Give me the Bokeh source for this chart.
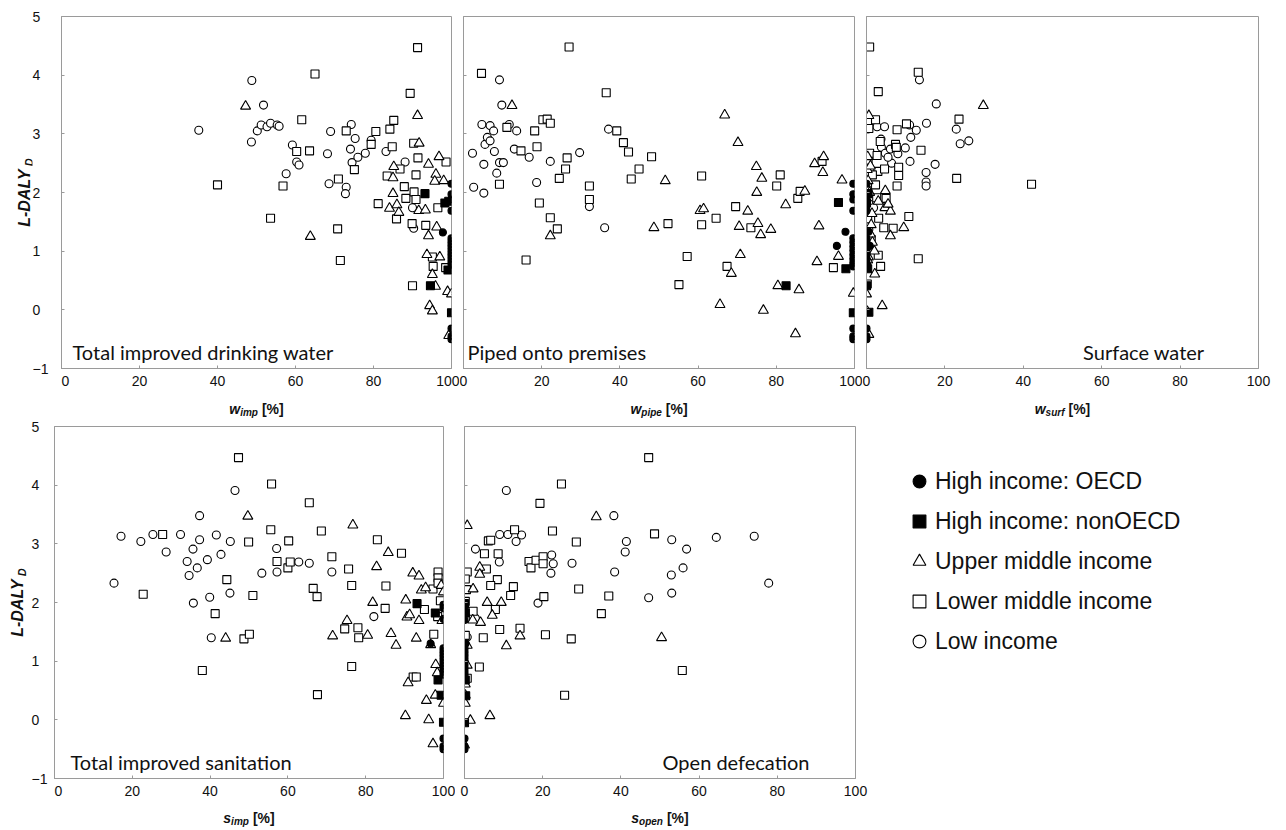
import math
from bokeh.plotting import figure
from bokeh.models import Range1d, Label, FixedTicker, Legend, LegendItem
from bokeh.core.properties import value
from bokeh.layouts import column, row
from bokeh.embed import file_html
from bokeh.resources import INLINE

# ---------------- data ----------------
# Panel 1: total improved drinking water (w_imp)
wimp_low_x = [35.2, 48.7, 50.2, 51.2, 48.8, 51.8, 52.7, 53.6, 55.3, 55.8, 59.2, 60.3, 60.9, 57.6, 68.2,
              69.0, 68.6, 73.0, 72.8, 74.3, 75.3, 74.1, 74.5, 76.0, 77.9, 79.4, 83.2, 88.1, 90.0, 90.3]
wimp_low_y = [3.06, 2.86, 3.05, 3.15, 3.91, 3.49, 3.12, 3.18, 3.15, 3.13, 2.81, 2.52, 2.47, 2.32, 2.66,
              3.04, 2.15, 2.09, 1.98, 3.16, 2.92, 2.74, 2.51, 2.60, 2.67, 2.89, 2.70, 2.52, 1.74, 1.39]
wimp_lmid_x = [40.0, 53.6, 56.8, 65.0, 61.6, 60.3, 63.6, 71.0, 70.8, 71.5, 73.0, 75.1, 79.4, 80.6, 81.2,
               84.2, 85.2, 84.8, 83.5, 86.8, 87.9, 88.3, 85.9, 89.4, 91.3, 90.3, 91.4, 90.9, 90.4, 90.9,
               89.9, 93.4, 90.0, 95.1, 95.3, 96.5, 98.6, 98.5]
wimp_lmid_y = [2.13, 1.56, 2.11, 4.02, 3.24, 2.70, 2.71, 2.23, 1.38, 0.84, 3.05, 2.39, 2.82, 3.04, 1.81,
               3.08, 3.23, 2.78, 2.28, 2.40, 2.10, 1.90, 1.55, 3.69, 4.47, 2.84, 2.59, 2.30, 2.01, 1.88,
               1.47, 1.44, 0.41, 0.90, 0.74, 1.74, 2.52, 0.72]
wimp_umid_x = [47.2, 63.8, 91.3, 91.7, 96.8, 94.1, 96.0, 95.7, 98.0, 85.2, 85.0, 85.0, 84.1, 86.0, 86.5,
               91.6, 93.3, 96.2, 94.1, 93.7, 97.0, 95.1, 95.9, 94.4, 95.1, 99.0, 100.0, 99.3]
wimp_umid_y = [3.47, 1.25, 3.31, 2.84, 2.61, 2.48, 2.31, 2.19, 2.20, 2.44, 2.25, 1.98, 1.73, 1.79, 1.66,
               1.69, 1.70, 1.41, 1.26, 0.94, 0.90, 0.60, 0.40, 0.07, -0.02, 0.31, 0.27, -0.44]
wimp_hnon_x = [93.2, 98.3, 99.3, 94.6, 100.0, 99.1]
wimp_hnon_y = [1.98, 1.82, 1.85, 0.41, -0.05, 0.68]
wimp_hoecd_x = [100, 100, 100, 100, 97.8, 100, 100, 100, 100, 100, 100, 100, 100, 100, 100, 100, 100, 100]
wimp_hoecd_y = [2.15, 1.97, 1.88, 1.69, 1.32, 1.22, 1.17, 1.12, 1.07, 1.02, 0.97, 0.92, 0.87, 0.82, 0.77,
                -0.32, -0.45, -0.50]

# Panel 2: piped onto premises (w_pipe)
wpipe_low_x = [2.3, 2.6, 4.7, 5.2, 5.2, 5.5, 6.1, 6.8, 6.8, 7.7, 7.9, 8.5, 9.2, 10.2, 9.2, 9.8, 11.7, 13.6,
               13.0, 16.8, 18.7, 22.2, 29.7, 32.2, 36.1, 37.1]
wpipe_low_y = [2.67, 2.09, 3.16, 2.48, 1.99, 2.82, 2.94, 3.14, 2.88, 3.05, 2.70, 2.33, 2.51, 2.51, 3.92,
               3.49, 3.16, 3.05, 2.74, 2.60, 2.17, 2.53, 2.68, 1.76, 1.40, 3.08]
wpipe_lmid_x = [4.6, 9.2, 11.1, 14.7, 16.0, 18.2, 18.8, 19.4, 20.3, 21.4, 22.2, 22.2, 24.0, 24.5, 26.1,
                26.5, 27.0, 32.2, 32.2, 36.5, 39.2, 40.9, 42.2, 42.9, 44.9, 48.1, 52.3, 55.1, 57.2, 60.9,
                60.9, 64.6, 67.4, 69.6, 73.5, 80.1, 81.0, 85.5, 86.1, 91.7, 94.6]
wpipe_lmid_y = [4.03, 2.14, 3.11, 2.71, 0.85, 3.05, 2.78, 1.82, 3.24, 3.25, 3.18, 1.57, 1.38, 2.24, 2.40,
                2.59, 4.48, 2.11, 1.88, 3.70, 3.05, 2.85, 2.69, 2.23, 2.40, 2.61, 1.47, 0.43, 0.91, 2.28,
                1.45, 1.56, 0.74, 1.76, 1.40, 2.11, 2.30, 1.90, 2.02, 2.53, 0.72]
wpipe_umid_x = [12.4, 22.2, 48.7, 51.6, 60.5, 61.4, 65.6, 66.8, 68.5, 70.2, 70.5, 70.8, 72.7, 74.9, 75.0,
                75.3, 76.3, 76.0, 76.7, 78.6, 80.4, 82.4, 84.9, 85.8, 87.3, 89.8, 90.4, 90.9, 91.9, 92.1,
                95.9, 96.8, 99.7]
wpipe_umid_y = [3.48, 1.26, 1.40, 2.20, 1.69, 1.72, 0.09, 3.32, 0.62, 2.85, 1.42, 0.94, 1.68, 2.44, 2.00,
                1.47, 2.24, 1.28, -0.01, 1.37, 0.41, 1.79, -0.41, 0.34, 2.02, 2.49, 0.82, 1.43, 2.34, 2.61,
                0.91, 2.21, 0.28]
wpipe_hnon_x = [95.9, 82.5, 99.7, 97.8]
wpipe_hnon_y = [1.83, 0.41, -0.05, 0.70]
wpipe_hoecd_x = [99.7, 99.7, 99.7, 99.7, 97.7, 95.5, 99.7, 99.7, 99.7, 99.7, 99.7, 99.7, 99.7, 99.7,
                 99.7, 99.7, 99.7]
wpipe_hoecd_y = [2.15, 1.97, 1.88, 1.69, 1.33, 1.09, 1.22, 1.15, 1.08, 1.01, 0.94, 0.87, 0.80, 0.74,
                 -0.32, -0.45, -0.50]

# Panel 3: surface water (w_surf)
wsurf_low_x = [13.5, 17.8, 2.7, 4.6, 11.0, 12.7, 15.3, 22.9, 23.9, 26.1, 3.7, 11.3, 9.9, 3.8, 4.8, 6.1,
               6.4, 11.1, 17.5, 15.2, 15.2, 15.2, 0.6, 0.6, 1.8, 5.5, 8.0]
wsurf_low_y = [3.92, 3.51, 3.12, 3.12, 3.15, 3.06, 3.18, 3.08, 2.83, 2.88, 2.91, 2.94, 2.76, 2.77, 2.67,
               2.74, 2.50, 2.53, 2.48, 2.34, 2.18, 2.11, 1.81, 1.37, 1.74, 2.60, 2.66]
wsurf_lmid_x = [0.8, 13.2, 3.0, 2.3, 0.6, 7.8, 10.2, 23.6, 3.5, 7.4, 7.6, 13.9, 0.8, 2.7, 23.0, 8.2, 8.2,
                7.8, 2.9, 4.6, 2.3, 0.2, 2.6, 5.0, 3.1, 10.8, 6.8, 4.4, 3.0, 3.6, 0.0, 0.2, 13.2, 42.1,
                0.4, 1.5, 0.3, 1.2]
wsurf_lmid_y = [4.48, 4.05, 3.72, 3.24, 3.09, 3.07, 3.17, 3.25, 2.87, 2.82, 2.77, 2.72, 2.67, 2.63, 2.24,
                2.43, 2.29, 2.11, 2.36, 2.40, 2.13, 2.03, 1.91, 1.90, 1.56, 1.59, 1.39, 1.40, 0.93, 0.74,
                0.74, 0.44, 0.87, 2.14, 2.52, 2.30, 1.55, 1.20]
wsurf_umid_x = [29.8, 0.6, 0.2, 4.8, 4.7, 6.1, 1.4, 9.5, 1.0, 6.1, 2.1, 0.0, 4.0, 0.2, 0.6, 5.5, 0.4, 1.0,
                0.3, 2.0, 0.5, 1.2, 0.8, 3.0, 0.3, 1.5]
wsurf_umid_y = [3.48, 3.31, 2.39, 2.03, 1.74, 1.68, 1.64, 1.40, 1.29, 1.26, 0.61, 0.27, 0.07, -0.03,
                -0.42, 1.80, 2.20, 2.45, 2.61, 1.00, 0.90, 1.45, 2.00, 1.85, 0.85, 1.15]
wsurf_hnon_x = [0.4, 0.0, 0.3, 0.0, 0.6]
wsurf_hnon_y = [1.98, 1.82, 0.70, 0.41, -0.04]
wsurf_hoecd_x = [0.0, 0.0, 0.0, 0.0, 0.5, 0.8, 0.0, 0.0, 0.0, 0.0, 0.0, 0.0, 0.0, 0.0, 0.0, 0.0, 0.0]
wsurf_hoecd_y = [2.15, 1.97, 1.88, 1.69, 1.33, 1.09, 1.22, 1.15, 1.08, 1.01, 0.94, 0.87, 0.80, 0.74,
                 -0.32, -0.45, -0.50]

# Panel 4: total improved sanitation (s_imp)
simp_low_x = [15.3, 17.1, 22.2, 25.3, 28.7, 32.4, 34.1, 35.6, 34.6, 36.7, 37.3, 37.3, 35.7, 39.3, 39.9,
              40.3, 41.6, 42.8, 45.1, 45.2, 46.4, 53.3, 57.1, 57.2, 62.8, 65.5, 71.3, 82.1]
simp_low_y = [2.33, 3.13, 3.04, 3.16, 2.86, 3.16, 2.70, 2.91, 2.46, 2.59, 3.07, 3.48, 1.99, 2.73, 2.09,
              1.40, 3.15, 2.82, 2.16, 3.04, 3.91, 2.50, 2.92, 2.52, 2.69, 2.67, 2.52, 1.76]
simp_lmid_x = [22.8, 27.8, 38.0, 41.3, 44.3, 47.3, 48.7, 49.9, 50.1, 51.0, 55.6, 55.8, 57.2, 60.0, 60.2,
               60.6, 65.5, 66.5, 67.5, 67.6, 68.6, 71.3, 74.6, 75.6, 76.4, 76.4, 78.0, 78.2, 83.0, 85.0,
               85.2, 89.2, 92.2, 93.0, 95.1, 97.3, 97.5, 98.6, 98.6, 98.6, 99.2, 98.5]
simp_lmid_y = [2.14, 3.16, 0.84, 1.81, 2.39, 4.47, 1.38, 3.03, 1.46, 2.12, 3.24, 4.02, 2.70, 2.59, 3.05,
               2.69, 3.70, 2.24, 2.10, 0.43, 3.22, 2.78, 1.55, 2.57, 2.29, 0.91, 1.57, 1.40, 3.07, 1.90,
               2.28, 2.84, 0.73, 0.73, 1.88, 2.23, 1.46, 2.52, 2.42, 2.33, 2.03, 1.76]
simp_umid_x = [49.7, 44.0, 71.5, 75.2, 76.7, 80.5, 81.8, 82.8, 85.8, 86.5, 87.8, 90.2, 90.3, 90.6, 90.9,
               91.3, 92.1, 93.0, 93.7, 93.7, 94.3, 95.4, 95.6, 96.2, 96.7, 97.3, 97.9, 98.0, 98.4, 99.4,
               100.0, 100.0, 99.6]
simp_umid_y = [3.47, 1.39, 1.43, 1.69, 3.32, 1.44, 2.00, 2.61, 2.85, 1.47, 1.27, 0.07, 2.04, 1.75, 0.63,
               1.79, 2.50, 1.39, 2.45, 1.69, 2.21, 2.25, 0.33, 0.00, 1.28, -0.41, 0.42, 0.94, 0.80, 2.29,
               2.18, 0.28, 1.69]
simp_hnon_x = [93.2, 97.9, 98.6, 99.4, 100.0]
simp_hnon_y = [1.98, 1.82, 0.68, 0.42, -0.04]
simp_hoecd_x = [100, 100, 100, 96.7, 100, 100, 100, 100, 100, 100, 100, 100, 100, 100, 100, 100, 100]
simp_hoecd_y = [1.96, 1.90, 1.72, 1.30, 1.22, 1.17, 1.12, 1.07, 1.02, 0.97, 0.92, 0.87, 0.82, 0.77,
                -0.32, -0.45, -0.50]

# Panel 5: open defecation (s_open)
sopen_low_x = [10.7, 2.8, 9.0, 11.1, 13.2, 14.6, 8.9, 18.8, 22.3, 22.7, 22.1, 27.5, 38.2, 38.4, 41.4,
               41.1, 47.1, 53.0, 52.9, 53.0, 55.9, 56.8, 64.4, 74.1, 77.8, 2.8, 0.7]
sopen_low_y = [3.91, 2.91, 3.16, 3.16, 3.04, 3.15, 2.69, 1.99, 2.81, 2.66, 2.50, 2.67, 3.48, 2.52, 3.04,
               2.86, 2.08, 3.07, 2.47, 2.16, 2.59, 2.91, 3.11, 3.13, 2.33, 1.73, 1.41]
sopen_lmid_x = [47.1, 24.8, 19.3, 12.8, 22.5, 28.6, 48.6, 6.1, 6.7, 5.1, 8.6, 5.6, 16.5, 17.0, 18.3, 20.1,
                20.1, 8.4, 6.7, 12.5, 11.8, 20.3, 29.2, 36.9, 35.0, 7.9, 2.2, 9.0, 14.2, 20.7, 27.3, 4.8,
                3.8, 55.7, 25.6, 0.7, 0.2, 0.5, 0.2, 0.2, 0.2, 0.7]
sopen_lmid_y = [4.47, 4.02, 3.69, 3.24, 3.22, 3.03, 3.17, 3.05, 3.06, 2.83, 2.83, 2.57, 2.70, 2.59, 2.72,
                2.78, 2.66, 2.39, 2.29, 2.27, 2.12, 2.10, 2.23, 2.11, 1.81, 1.88, 1.85, 1.54, 1.56, 1.45,
                1.38, 1.40, 0.90, 0.84, 0.42, 2.52, 2.40, 2.22, 2.02, 1.73, 1.44, 0.71]
sopen_umid_x = [0.7, 33.7, 3.9, 3.9, 2.2, 5.8, 9.4, 7.1, 4.1, 14.2, 10.7, 50.4, 0.7, 0.7, 0.2, 0.2, 0.2,
                6.5, 1.5, 0.0, 2.1]
sopen_umid_y = [3.31, 3.46, 2.60, 2.48, 2.23, 2.00, 2.00, 1.78, 1.66, 1.43, 1.26, 1.40, 1.27, 0.93, 0.61,
                0.42, 0.28, 0.07, -0.01, -0.43, 1.70]
sopen_hnon_x = [0.0, 0.2, 0.2, 0.3, 0.0]
sopen_hnon_y = [1.98, 1.82, 0.68, 0.41, -0.05]
sopen_hoecd_x = [0.0, 0.0, 0.0, 0.3, 0.0, 0.0, 0.0, 0.0, 0.0, 0.0, 0.0, 0.0, 0.0, 0.0, 0.0, 0.0, 0.0]
sopen_hoecd_y = [1.93, 1.88, 1.70, 1.30, 1.22, 1.17, 1.12, 1.07, 1.02, 0.97, 0.92, 0.87, 0.82, 0.77,
                 -0.32, -0.45, -0.50]

group_labels = ["High income: OECD", "High income: nonOECD", "Upper middle income",
                "Lower middle income", "Low income"]
panel_titles = ["Total improved drinking water", "Piped onto premises", "Surface water",
                "Total improved sanitation", "Open defecation"]
x_ticks = [0, 20, 40, 60, 80, 100]
y_ticks = [-1, 0, 1, 2, 3, 4, 5]

# ---------------- styling helpers ----------------
FRAME = "#9a9a9a"
INK = "#111111"
TICKFONT = "Liberation Sans"
CW = {"w": .778, "s": .556, "i": .278, "m": .889, "p": .611, "e": .556, "u": .611, "r": .389,
      "f": .333, "o": .611, "n": .611, " ": .278, "[": .333, "%": .889, "]": .333, "L": .611,
      "-": .333, "D": .722, "A": .722, "Y": .667}

TOP_H, TOP_STRIP, BOT_H, BOT_STRIP = 392, 26, 384, 28
FRAME_H = 352
PX_PER_Y = FRAME_H / 6.0
MLW = 1.1


def tw(s, size):
    return sum(CW.get(c, .6) for c in s) * size


def make_fig(width, height, bl, br, bt, bb):
    p = figure(width=width, height=height, output_backend="svg", toolbar_location=None,
               x_range=Range1d(0, 100), y_range=Range1d(-1, 5),
               min_border_left=bl, min_border_right=br, min_border_top=bt, min_border_bottom=bb)
    p.grid.visible = False
    p.outline_line_color = FRAME
    p.outline_line_width = 1
    p.background_fill_color = "white"
    p.border_fill_color = "white"
    for ax in (p.xaxis[0], p.yaxis[0]):
        ax.axis_line_color = FRAME
        ax.major_tick_line_color = FRAME
        ax.major_tick_in = 3
        ax.major_tick_out = 0
        ax.minor_tick_line_color = None
        ax.major_label_text_font = TICKFONT
        ax.major_label_text_font_size = "14px"
        ax.major_label_text_color = INK
    p.xaxis.ticker = FixedTicker(ticks=x_ticks)
    p.yaxis.ticker = FixedTicker(ticks=y_ticks)
    p.xaxis.major_label_standoff = 7
    p.yaxis.major_label_overrides = {t: "" for t in y_ticks}
    p.yaxis.major_label_standoff = 0
    return p


def draw_groups(p, d):
    lx, ly, mx, my, ux, uy, nx, ny, ox, oy = d
    r_low = p.scatter(lx, ly, marker="circle", size=8, fill_color="white", line_color="black",
                      line_width=MLW)
    r_mid = p.scatter(mx, my, marker="square", size=8, fill_color="white", line_color="black",
                      line_width=MLW)
    r_up = p.scatter(ux, uy, marker="triangle", size=10, fill_color="white", line_color="black",
                     line_width=MLW)
    r_non = p.scatter(nx, ny, marker="square", size=8, fill_color="black", line_color="black",
                      line_width=MLW)
    r_oecd = p.scatter(ox, oy, marker="circle", size=7, fill_color="black", line_color="black",
                       line_width=MLW)
    return [r_oecd, r_non, r_up, r_mid, r_low]


def panel_text(p, text, left, offset):
    p.add_layout(Label(text=text, x=0 if left else 100, y=-1, x_offset=offset, y_offset=17,
                       text_align="left" if left else "right", text_baseline="middle",
                       text_font="Lato", text_font_size="20px", text_color=INK))


def strip(width, height):
    s = figure(width=width, height=height, output_backend="svg", toolbar_location=None,
               x_range=Range1d(0, width), y_range=Range1d(0, height), min_border=0,
               x_axis_location=None, y_axis_location=None)
    s.grid.visible = False
    s.outline_line_color = None
    s.background_fill_color = "white"
    s.border_fill_color = "white"
    return s


def xlabels(s, centers, mains, subs, ymid):
    mx, sx, bx = [], [], []
    for c, m, sb in zip(centers, mains, subs):
        w1, w2, w3 = tw(m, 14), tw(sb, 10), tw("[%]", 14)
        start = c - (w1 + w2 + 4 + w3) / 2
        mx.append(start)
        sx.append(start + w1)
        bx.append(start + w1 + w2 + 4)
    common = dict(text_font=value(TICKFONT), text_align="left", text_baseline="middle", text_color=INK)
    s.text(x=mx, y=[ymid] * len(mx), text=mains, text_font_size="14px", text_font_style="bold italic",
           **common)
    s.text(x=sx, y=[ymid - 4] * len(sx), text=subs, text_font_size="10px", text_font_style="bold italic",
           **common)
    s.text(x=bx, y=[ymid] * len(bx), text=["[%]"] * len(bx), text_font_size="14px",
           text_font_style="bold", **common)


def ystrip(width, height, bt, bb, br, xc):
    """Narrow figure that carries the y tick labels (right axis) and the rotated y title."""
    s = figure(width=width, height=height, output_backend="svg", toolbar_location=None,
               x_range=Range1d(0, 1), y_range=Range1d(-1, 5),
               min_border_left=0, min_border_right=br, min_border_top=bt, min_border_bottom=bb,
               x_axis_location=None, y_axis_location="right")
    s.grid.visible = False
    s.outline_line_color = None
    s.background_fill_color = "white"
    s.border_fill_color = "white"
    ax = s.yaxis[0]
    ax.ticker = FixedTicker(ticks=y_ticks)
    ax.axis_line_color = None
    ax.major_tick_line_color = None
    ax.minor_tick_line_color = None
    ax.major_tick_out = 0
    ax.major_tick_in = 0
    ax.major_label_standoff = 0
    ax.major_label_text_font = TICKFONT
    ax.major_label_text_font_size = "14px"
    ax.major_label_text_color = INK
    w1, w2 = tw("L-DALY", 16), tw("D", 11)
    start = 2 - (w1 + w2 + 2) / 2 / PX_PER_Y
    common = dict(text_font=value(TICKFONT), text_align="left", text_baseline="middle", text_color=INK,
                  angle=math.pi / 2, text_font_style="bold italic")
    s.text(x=[0], y=[start], x_offset=xc, text=["L-DALY"], text_font_size="16px", **common)
    s.text(x=[0], y=[start + (w1 + 2) / PX_PER_Y], x_offset=xc + 4, text=["D"], text_font_size="11px",
           **common)
    return s


# ---------------- top row ----------------
yl1 = ystrip(61, TOP_H, 16, 24, 29, 24)

p1 = make_fig(398, TOP_H, 0, 8, 16, 24)
draw_groups(p1, (wimp_low_x, wimp_low_y, wimp_lmid_x, wimp_lmid_y, wimp_umid_x, wimp_umid_y,
                 wimp_hnon_x, wimp_hnon_y, wimp_hoecd_x, wimp_hoecd_y))
panel_text(p1, panel_titles[0], True, 11)

p2 = make_fig(403, TOP_H, 4, 8, 16, 24)
draw_groups(p2, (wpipe_low_x, wpipe_low_y, wpipe_lmid_x, wpipe_lmid_y, wpipe_umid_x, wpipe_umid_y,
                 wpipe_hnon_x, wpipe_hnon_y, wpipe_hoecd_x, wpipe_hoecd_y))
panel_text(p2, panel_titles[1], True, 4)

p3 = make_fig(420, TOP_H, 4, 24, 16, 24)
draw_groups(p3, (wsurf_low_x, wsurf_low_y, wsurf_lmid_x, wsurf_lmid_y, wsurf_umid_x, wsurf_umid_y,
                 wsurf_hnon_x, wsurf_hnon_y, wsurf_hoecd_x, wsurf_hoecd_y))
panel_text(p3, panel_titles[2], False, -54)

xs1 = strip(1282, TOP_STRIP)
xlabels(xs1, [256, 658.5, 1062], ["w", "w", "w"], ["imp", "pipe", "surf"], 10)

# ---------------- bottom row ----------------
yl4 = ystrip(54, BOT_H, 8, 24, 23, 17)

p4 = make_fig(401, BOT_H, 0, 12, 8, 24)
draw_groups(p4, (simp_low_x, simp_low_y, simp_lmid_x, simp_lmid_y, simp_umid_x, simp_umid_y,
                 simp_hnon_x, simp_hnon_y, simp_hoecd_x, simp_hoecd_y))
panel_text(p4, panel_titles[3], True, 16)

p5 = make_fig(414, BOT_H, 9, 14, 8, 24)
draw_groups(p5, (sopen_low_x, sopen_low_y, sopen_lmid_x, sopen_lmid_y, sopen_umid_x, sopen_umid_y,
                 sopen_hnon_x, sopen_hnon_y, sopen_hoecd_x, sopen_hoecd_y))
panel_text(p5, panel_titles[4], False, -46)

# legend panel: hidden copies of the open-defecation series feed the legend glyphs
p6 = strip(413, BOT_H)
p6.x_range = Range1d(0, 100)
p6.y_range = Range1d(-1, 5)
leg_r = draw_groups(p6, (sopen_low_x, sopen_low_y, sopen_lmid_x, sopen_lmid_y, sopen_umid_x, sopen_umid_y,
                         sopen_hnon_x, sopen_hnon_y, sopen_hoecd_x, sopen_hoecd_y))
for r in leg_r:
    r.visible = False
lg = Legend(items=[LegendItem(label=lab, renderers=[r]) for lab, r in zip(group_labels, leg_r)])
lg.location = (34, 119)
lg.glyph_width = 32
lg.glyph_height = 36
lg.label_height = 36
lg.label_standoff = 0
lg.spacing = 4
lg.padding = 0
lg.margin = 0
lg.border_line_alpha = 0
lg.background_fill_alpha = 0
lg.inactive_fill_alpha = 0
lg.label_text_font = TICKFONT
lg.label_text_font_size = "23px"
lg.label_text_color = INK
p6.add_layout(lg)

xs4 = strip(1282, BOT_STRIP)
xlabels(xs4, [248.5, 659.5], ["s", "s"], ["imp", "open"], 13)

layout = column(row(yl1, p1, p2, p3), xs1, row(yl4, p4, p5, p6), xs4)

with open("out.html", "w") as f:
    f.write(file_html(layout, INLINE))
